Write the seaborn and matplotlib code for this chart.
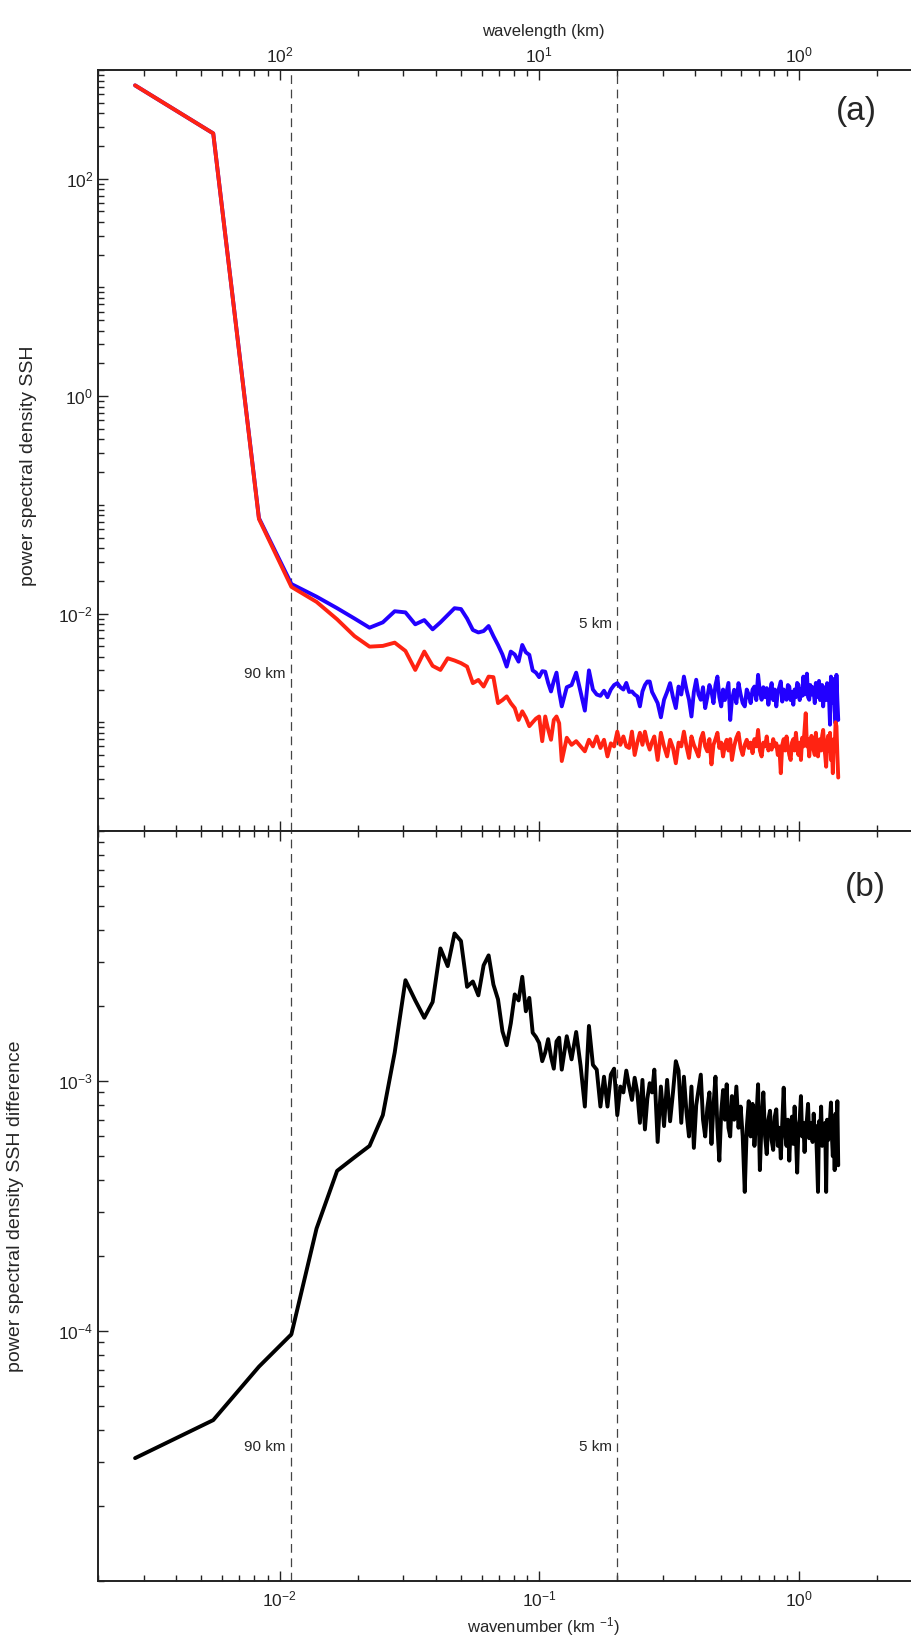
import numpy as np
import matplotlib
matplotlib.use('Agg')
import matplotlib.pyplot as plt
import seaborn as sns
from matplotlib.ticker import LogLocator, NullFormatter

# wavenumber index, dk = 1/360 km^-1 (every index at low k, thinned at high k)
n_idx = np.r_[np.arange(1, 45), np.arange(46, 101, 2),
              np.arange(103, 200, 3), np.arange(203, 512, 4)]
k = n_idx / 360.0

# panel (a): PSD of SSH, in units of 1e-3
blue_e3 = [722000, 261000, 75.5, 18.7, 14.3, 11.2, 9.0, 7.41, 8.3, 10.5,
           10.25, 7.96, 8.71, 7.16, 8.3, 9.7, 11.2, 11.0, 9.0, 7.06,
           6.7, 6.9, 7.68, 6.2, 5.14, 4.2, 3.25, 4.47, 4.2, 3.61,
           5.14, 4.4, 4.17, 3.0, 2.86, 2.6, 2.95, 2.92, 2.3, 1.92,
           2.4, 2.86, 1.9, 1.40,
           # n = 46..100
           2.1, 2.2, 2.86, 1.9, 1.28, 3.0, 2.0, 1.8, 1.75, 1.95,
           1.7, 2.0, 2.2, 2.29, 2.1, 2.0, 2.3, 1.9, 1.92, 1.8,
           1.73, 1.40, 1.92, 2.2, 2.37, 2.37, 1.9, 1.73,
           # n = 103..199
           1.5, 1.11, 1.61, 1.9, 2.29, 1.7, 1.35, 2.13, 1.8, 2.63,
           2.0, 1.61, 1.13, 1.9, 2.46, 1.8, 1.61, 2.1, 1.35, 1.7,
           2.2, 1.92, 1.5, 2.2, 2.63, 1.7, 1.40, 2.0, 1.6, 1.92,
           2.3, 1.05, 1.6,
           # n = 203..511
           1.99, 1.5, 2.29, 1.8, 1.5, 1.40, 2.0, 1.79, 1.5, 2.0,
           2.13, 1.6, 2.73, 1.9, 1.61, 2.1, 1.7, 2.06, 1.45, 1.9,
           2.29, 1.6, 2.0, 1.40, 1.9, 2.1, 2.37, 1.55, 2.0, 1.7,
           1.61, 2.2, 2.13, 1.6, 1.9, 1.45, 2.0, 1.7, 2.3, 2.21,
           1.6, 2.0, 1.75, 2.63, 1.8, 2.1, 2.8, 1.7, 1.61, 2.2,
           1.8, 2.1, 1.92, 1.5, 2.3, 1.7, 2.06, 2.4, 1.6, 2.0,
           2.2, 1.40, 1.9, 2.1, 1.6, 2.29, 1.8, 1.67, 0.95, 2.63,
           1.5, 2.2, 2.5, 1.3, 0.98, 2.73, 1.6, 1.05]

red_e3 = [722000, 261000, 74.1, 17.6, 12.8, 8.85, 6.2, 4.96, 5.04, 5.4,
          4.53, 3.03, 4.47, 3.3, 3.03, 3.88, 3.7, 3.5, 3.25, 2.29,
          2.45, 2.13, 2.63, 2.6, 1.5, 1.6, 1.73, 1.5, 1.35, 1.05,
          1.26, 1.1, 0.92, 1.0, 1.08, 1.13, 0.67, 1.13, 0.86, 0.69,
          1.05, 1.13, 0.98, 0.44,
          # n = 46..100
          0.72, 0.62, 0.67, 0.60, 0.54, 0.69, 0.60, 0.74, 0.58, 0.69,
          0.485, 0.64, 0.6, 0.82, 0.62, 0.74, 0.6, 0.58, 0.82, 0.50,
          0.65, 0.80, 0.62, 0.82, 0.65, 0.56, 0.66, 0.74,
          # n = 103..199
          0.45, 0.80, 0.6, 0.485, 0.69, 0.58, 0.42, 0.65, 0.60, 0.82,
          0.6, 0.47, 0.74, 0.62, 0.55, 0.485, 0.7, 0.80, 0.6, 0.54,
          0.7, 0.41, 0.62, 0.7, 0.80, 0.58, 0.65, 0.485, 0.62, 0.69,
          0.55, 0.7, 0.45,
          # n = 203..511
          0.6, 0.72, 0.80, 0.58, 0.50, 0.62, 0.69, 0.58, 0.65, 0.52,
          0.7, 0.6, 0.85, 0.55, 0.485, 0.65, 0.6, 0.74, 0.55, 0.62,
          0.56, 0.7, 0.6, 0.64, 0.5, 0.6, 0.34, 0.62, 0.7, 0.55,
          0.74, 0.6, 0.5, 0.45, 0.65, 0.7, 0.55, 0.80, 0.6, 0.5,
          0.65, 0.45, 0.72, 0.6, 0.85, 1.21, 0.6, 0.7, 0.485, 0.65,
          0.75, 0.69, 0.55, 0.5, 0.8, 0.6, 0.485, 0.65, 0.7, 0.55,
          0.75, 0.85, 0.6, 0.5, 0.39, 0.65, 0.75, 0.55, 0.80, 0.45,
          0.6, 0.34, 0.7, 0.55, 1.0, 0.92, 0.5, 0.31]

# panel (b): PSD of SSH difference, in units of 1e-4
diff_e4 = [0.31, 0.44, 0.72, 0.97, 2.57, 4.37, 4.95, 5.5, 7.3, 13.0,
           25.3, 21.0, 17.9, 20.7, 33.9, 28.8, 38.9, 36.3, 23.8, 25.0,
           22.0, 29.0, 31.8, 24.3, 21.2, 15.8, 13.9, 17.0, 22.2, 21.0,
           26.1, 19.0, 21.5, 15.6, 15.0, 14.2, 12.0, 13.0, 14.7, 12.5,
           11.2, 14.4, 14.9, 11.1,
           # n = 46..100
           15.1, 12.2, 15.7, 11.5, 7.9, 16.6, 11.6, 11.1, 7.9, 10.4,
           7.9, 10.6, 11.2, 7.3, 9.5, 9.0, 11.0, 9.5, 8.4, 10.3,
           9.0, 6.8, 10.1, 6.4, 8.5, 9.8, 9.0, 11.1,
           # n = 103..199
           5.7, 9.5, 6.6, 10.1, 6.9, 9.0, 12.0, 11.0, 6.8, 10.4,
           7.5, 6.0, 9.5, 5.4, 8.0, 9.2, 10.6, 7.0, 6.0, 7.8,
           9.0, 5.6, 8.0, 10.4, 6.5, 4.8, 7.5, 9.2, 7.0, 9.7,
           6.5, 6.0, 8.7,
           # n = 203..511
           7.0, 9.5, 6.5, 7.9, 6.0, 3.6, 6.5, 8.3, 6.0, 8.1,
           5.5, 7.0, 9.7, 4.4, 7.0, 9.0, 6.0, 5.1, 7.0, 7.6,
           5.8, 5.3, 7.2, 7.7, 5.5, 6.5, 4.9, 6.8, 9.4, 6.2,
           5.5, 7.0, 4.8, 6.5, 7.2, 5.6, 7.9, 6.0, 4.3, 6.5,
           7.0, 8.7, 6.0, 6.8, 5.2, 6.5, 7.0, 8.1, 5.9, 6.8,
           6.2, 5.7, 7.4, 6.0, 6.6, 5.0, 3.6, 6.9, 6.0, 7.9,
           5.5, 6.6, 5.8, 6.8, 3.6, 7.0, 5.8, 6.5, 7.0, 8.2,
           6.0, 5.0, 6.8, 4.4, 7.4, 6.0, 8.3, 4.6]

cut_km = [90, 5]
top_labels = ['$10^{2}$', '$10^{1}$', '$10^{0}$']
bottom_labels = ['$10^{-2}$', '$10^{-1}$', '$10^{0}$']

assert len(blue_e3) == len(k) and len(red_e3) == len(k) and len(diff_e4) == len(k)
blue = np.array(blue_e3) * 1e-3
red = np.array(red_e3) * 1e-3
diff = np.array(diff_e4) * 1e-4

sns.set_theme(style='ticks')
plt.rcParams['font.family'] = ['Liberation Sans', 'DejaVu Sans']
plt.rcParams['mathtext.default'] = 'regular'

fig = plt.figure(figsize=(9.12, 16.39), dpi=100)
ax1 = fig.add_axes([0.1075, 0.4930, 0.9759, 0.4643])
ax2 = fig.add_axes([0.1075, 0.0354, 0.9759, 0.4576])

sns.lineplot(x=k, y=blue, ax=ax1, color='#2200ff', lw=2.8, estimator=None, sort=False)
sns.lineplot(x=k, y=red, ax=ax1, color='#ff2312', lw=2.8, estimator=None, sort=False)
sns.lineplot(x=k, y=diff, ax=ax2, color='black', lw=2.8, estimator=None, sort=False)

for ax in (ax1, ax2):
    ax.set_xscale('log')
    ax.set_yscale('log')
    ax.set_xlim(2e-3, 5.36)
    for c in cut_km:
        ax.axvline(1.0 / c, color='#444444', lw=0.9, ls=(0, (7, 4.5)), zorder=1)
    ax.xaxis.set_minor_locator(LogLocator(base=10, subs=np.arange(2, 10), numticks=50))
    ax.xaxis.set_minor_formatter(NullFormatter())
    ax.yaxis.set_minor_locator(LogLocator(base=10, subs=np.arange(1, 10), numticks=50))
    ax.yaxis.set_minor_formatter(NullFormatter())
    ax.tick_params(which='both', direction='in', top=True, right=True,
                   width=1.0, color='#222222', labelsize=12.5, labelcolor='#222222')
    ax.tick_params(which='major', length=7)
    ax.tick_params(which='minor', length=4)
    for s in ax.spines.values():
        s.set_linewidth(1.4)
        s.set_color('#222222')

# panel (a)
ax1.set_ylim(1e-4, 1e3)
ax1.set_yticks([1e-2, 1e0, 1e2], labels=['$10^{-2}$', '$10^{0}$', '$10^{2}$'])
ax1.set_xticks([1e-2, 1e-1, 1e0], labels=top_labels)
ax1.tick_params(axis='x', labeltop=True, labelbottom=False, pad=3)
ax1.xaxis.set_label_position('top')
ax1.set_xlabel('wavelength (km)', fontsize=12, labelpad=7)
ax1.set_ylabel('power spectral density SSH', fontsize=14)
ax1.yaxis.set_label_coords(-0.069, 0.48)
ax1.annotate('90 km', xy=(1 / 90, 2.79e-3), xytext=(-4, 0), textcoords='offset points',
             ha='right', va='center', fontsize=11)
ax1.annotate('5 km', xy=(1 / 5, 8.0e-3), xytext=(-4, 0), textcoords='offset points',
             ha='right', va='center', fontsize=11)
ax1.text(0.852, 0.945, '(a)', transform=ax1.transAxes, ha='center', va='center', fontsize=24)

# panel (b)
ax2.set_ylim(1e-5, 1e-2)
ax2.set_yticks([1e-4, 1e-3], labels=['$10^{-4}$', '$10^{-3}$'])
ax2.set_xticks([1e-2, 1e-1, 1e0], labels=bottom_labels)
ax2.tick_params(axis='x', pad=6)
ax2.set_xlabel('wavenumber (km $^{-1}$)', fontsize=12, labelpad=4)
ax2.set_ylabel('power spectral density SSH difference', fontsize=14)
ax2.yaxis.set_label_coords(-0.083, 0.5)
ax2.annotate('90 km', xy=(1 / 90, 3.45e-5), xytext=(-4, 0), textcoords='offset points',
             ha='right', va='center', fontsize=11)
ax2.annotate('5 km', xy=(1 / 5, 3.45e-5), xytext=(-4, 0), textcoords='offset points',
             ha='right', va='center', fontsize=11)
ax2.text(0.862, 0.924, '(b)', transform=ax2.transAxes, ha='center', va='center', fontsize=24)

fig.savefig('out.png', dpi=100)
